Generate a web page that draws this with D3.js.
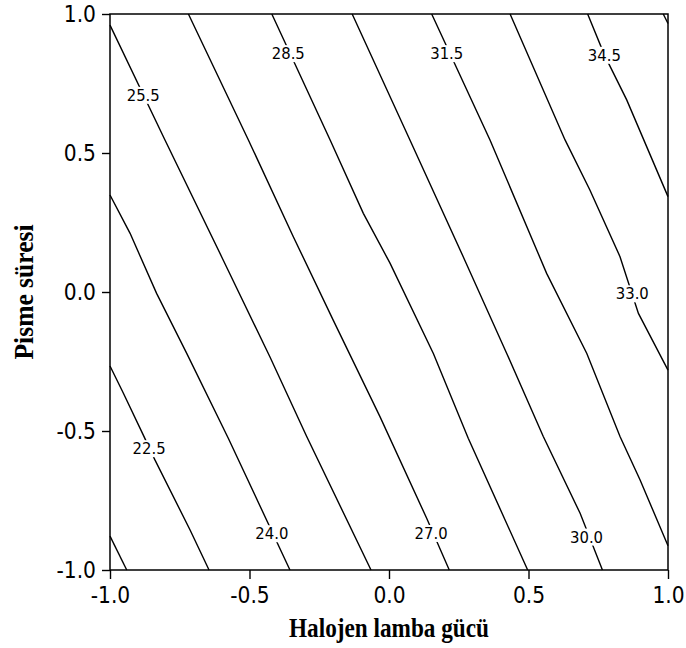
<!DOCTYPE html>
<html>
<head>
  <meta charset="utf-8">
  <title>Contour plot</title>
  <style>
    body { margin: 0; background: #fff; }
    .tick text { font-family: "DejaVu Sans Condensed", "DejaVu Sans", sans-serif; font-stretch: condensed; font-size: 22.5px; fill: #000; }
    .tick line { stroke: #000; stroke-width: 1.4; }
    .contour { fill: none; stroke: #000; stroke-width: 1.4; }
    .clabel { font-family: "DejaVu Sans Condensed", "DejaVu Sans", sans-serif; font-stretch: condensed; font-size: 16.5px; fill: #000; }
    .axis-title { font-family: "Liberation Serif", serif; font-weight: bold; font-size: 28px; }
  </style>
</head>
<body>
  <svg id="chart" width="686" height="648"></svg>

  <script src="https://d3js.org/d3.v7.min.js"></script>

  <script>
    // contour levels and the traced lines (x = Halojen lamba gücü, y = Pisme süresi)
    const levels = [21.0, 22.5, 24.0, 25.5, 27.0, 28.5, 30.0, 31.5, 33.0, 34.5, 36.0];

    const line210 = [[-1, -0.878], [-0.940, -1]];
    const line225 = [[-1, -0.266], [-0.952, -0.364], [-0.881, -0.514], [-0.839, -0.604], [-0.713, -0.856], [-0.645, -1]];
    const line240 = [[-1, 0.349], [-0.928, 0.211], [-0.833, -0.005], [-0.725, -0.221], [-0.576, -0.526], [-0.355, -1]];
    const line255 = [[-1, 0.960], [-0.803, 0.547], [-0.600, 0.127], [-0.427, -0.233], [-0.295, -0.520], [-0.0645, -1]];
    const line270 = [[-0.719, 1], [-0.504, 0.547], [-0.343, 0.199], [-0.200, -0.101], [-0.032, -0.449], [0.135, -0.814], [0.216, -1]];
    const line285 = [[-0.420, 1], [-0.211, 0.547], [-0.092, 0.283], [0.004, 0.103], [0.159, -0.221], [0.284, -0.526], [0.497, -1]];
    const line300 = [[-0.132, 1], [0.075, 0.547], [0.266, 0.127], [0.422, -0.221], [0.553, -0.520], [0.685, -0.796], [0.765, -1]];
    const line315 = [[0.153, 1], [0.362, 0.547], [0.565, 0.067], [0.709, -0.221], [0.828, -0.520], [0.900, -0.676], [1, -0.913]];
    const line330 = [[0.434, 1], [0.631, 0.547], [0.720, 0.367], [0.828, 0.127], [0.894, -0.077], [1, -0.281]];
    const line345 = [[0.712, 1], [0.772, 0.853], [0.852, 0.691], [1, 0.343]];
    const line360 = [[0.983, 1], [1, 0.966]];

    // labelled contours and where their labels sit
    const labelText = ['22.5', '24.0', '25.5', '27.0', '28.5', '30.0', '31.5', '33.0', '34.5'];
    const labelX = [-0.860, -0.420, -0.881, 0.151, -0.361, 0.708, 0.207, 0.872, 0.772];
    const labelY = [-0.562, -0.868, 0.709, -0.867, 0.859, -0.880, 0.859, -0.005, 0.853];

    const tickValues = [-1.0, -0.5, 0.0, 0.5, 1.0];
    const xTitle = 'Halojen lamba gücü';
    const yTitle = 'Pisme süresi';

    const lines = [line210, line225, line240, line255, line270, line285, line300, line315, line330, line345, line360];

    const margin = { top: 14, right: 18, bottom: 78, left: 110 };
    const width = 686 - margin.left - margin.right;
    const height = 648 - margin.top - margin.bottom;

    const x = d3.scaleLinear().domain([-1, 1]).range([0, width]);
    const y = d3.scaleLinear().domain([-1, 1]).range([height, 0]);

    const svg = d3.select('#chart');
    const g = svg.append('g').attr('transform', `translate(${margin.left},${margin.top})`);

    const lineGen = d3.line().x(d => x(d[0])).y(d => y(d[1]));

    g.selectAll('.contour')
      .data(lines)
      .enter()
      .append('path')
      .attr('class', 'contour')
      .attr('d', lineGen);

    // labels with a white box that breaks the line
    const labels = g.selectAll('.lab')
      .data(labelText)
      .enter()
      .append('g')
      .attr('class', 'lab')
      .attr('transform', (d, i) => `translate(${x(labelX[i])},${y(labelY[i])})`);

    labels.append('text')
      .attr('class', 'clabel')
      .attr('text-anchor', 'middle')
      .attr('dy', '0.36em')
      .text(d => d);

    labels.each(function() {
      const b = d3.select(this).select('text').node().getBBox();
      d3.select(this).insert('rect', 'text')
        .attr('x', b.x - 1)
        .attr('y', b.y + 1)
        .attr('width', b.width + 2)
        .attr('height', b.height - 2)
        .attr('fill', '#fff');
    });

    // frame
    g.append('rect')
      .attr('width', width)
      .attr('height', height)
      .attr('fill', 'none')
      .attr('stroke', '#000')
      .attr('stroke-width', 1.5);

    const fmt = d => d.toFixed(1);

    const xAxis = g.append('g')
      .attr('transform', `translate(0,${height})`)
      .call(d3.axisBottom(x).tickValues(tickValues).tickFormat(fmt).tickSize(9).tickSizeOuter(0).tickPadding(8));
    xAxis.select('.domain').remove();

    const yAxis = g.append('g')
      .call(d3.axisLeft(y).tickValues(tickValues).tickFormat(fmt).tickSize(8).tickSizeOuter(0).tickPadding(6));
    yAxis.select('.domain').remove();

    svg.append('text')
      .attr('class', 'axis-title')
      .attr('x', margin.left + width / 2)
      .attr('y', 637)
      .attr('text-anchor', 'middle')
      .attr('textLength', 200)
      .attr('lengthAdjust', 'spacingAndGlyphs')
      .text(xTitle);

    svg.append('text')
      .attr('class', 'axis-title')
      .attr('transform', `translate(33,${margin.top + height / 2}) rotate(-90)`)
      .attr('text-anchor', 'middle')
      .attr('textLength', 135)
      .attr('lengthAdjust', 'spacingAndGlyphs')
      .text(yTitle);
  </script>
</body>
</html>
